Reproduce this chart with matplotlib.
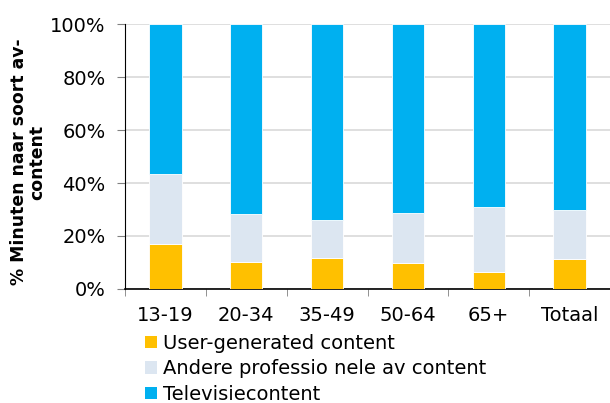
import matplotlib
matplotlib.use("Agg")
import matplotlib.pyplot as plt
from matplotlib.ticker import FuncFormatter
from matplotlib.patches import Patch

categories = ["13-19", "20-34", "35-49", "50-64", "65+", "Totaal"]
user_generated = [17.0, 10.2, 11.7, 9.9, 6.5, 11.3]
andere_professioneel = [26.4, 18.1, 14.3, 18.7, 24.6, 18.5]
televisie = [100 - u - a for u, a in zip(user_generated, andere_professioneel)]

series_labels = ["User-generated content", "Andere professio nele av content", "Televisiecontent"]
colors = ["#FFC000", "#DCE6F1", "#00B0F0"]

plt.rcParams["font.family"] = ["DejaVu Sans"]

fig = plt.figure(figsize=(6.10, 4.03), dpi=100)
ax = fig.add_axes([0.205, 0.283, 0.795, 0.657])

x = list(range(len(categories)))
bottom = [0.0] * len(categories)
for vals, col in zip([user_generated, andere_professioneel, televisie], colors):
    ax.bar(x, vals, bottom=bottom, width=0.4, color=col, edgecolor="white", linewidth=0.6, zorder=3)
    bottom = [b + v for b, v in zip(bottom, vals)]

ax.set_xlim(-0.5, len(categories) - 0.5)
ax.set_ylim(0, 100)
ax.set_yticks([0, 20, 40, 60, 80, 100])
ax.yaxis.set_major_formatter(FuncFormatter(lambda v, p: f"{int(v)}%"))
ax.set_xticks(x)
ax.set_xticklabels(categories)
ax.set_xticks([i - 0.5 for i in range(len(categories) + 1)], minor=True)
ax.tick_params(axis="x", which="major", length=0, pad=12, labelsize=14)
ax.tick_params(axis="x", which="minor", length=5, color="#808080")
ax.tick_params(axis="y", length=6, color="#808080", labelsize=14, pad=8)

ax.grid(axis="y", color="#D9D9D9", linewidth=1.2, zorder=0)
for s in ["top", "right"]:
    ax.spines[s].set_visible(False)
ax.spines["left"].set_color("black")
ax.spines["bottom"].set_color("black")
ax.spines["bottom"].set_linewidth(1.2)

fig.text(28 / 610, 1 - 162 / 403, "% Minuten naar soort av-\ncontent", rotation=90,
         fontsize=12.4, fontweight="bold", ha="center", va="center",
         multialignment="center", linespacing=1.0)

handles = [Patch(facecolor=c, edgecolor="none") for c in colors]
fig.legend(handles, series_labels, loc="upper left", bbox_to_anchor=(0.238, 0.171),
           frameon=False, fontsize=14, handlelength=0.6, handleheight=0.6,
           handletextpad=0.3, labelspacing=0.32, borderaxespad=0, borderpad=0)

fig.savefig("out.png", dpi=100)
